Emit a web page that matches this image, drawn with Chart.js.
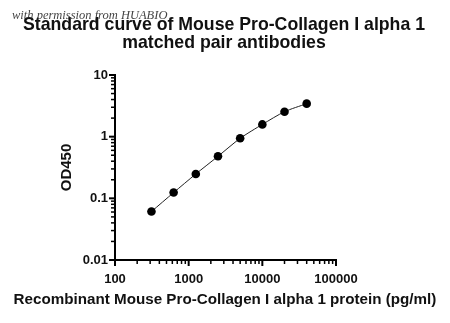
<!DOCTYPE html>
<html>
<head>
<meta charset="utf-8">
<script src="https://cdn.jsdelivr.net/npm/chart.js@4"></script>
<style>
  body { margin: 0; background: #fff; }
  #wrap { position: relative; width: 450px; height: 323px; }
  #note {
    position: absolute; left: 12px; top: 8px;
    font: italic 12.5px "Liberation Serif", "DejaVu Serif", serif;
    color: #222; opacity: 0.85; white-space: nowrap;
  }
</style>
</head>
<body>
<div id="wrap">
  <canvas id="chartCurve" width="450" height="323"></canvas>
  <div id="note">with permission from HUABIO</div>
</div>
<script>
const concentrations = [312.5, 625, 1250, 2500, 5000, 10000, 20000, 40000];
const od450 = [0.061, 0.124, 0.248, 0.48, 0.94, 1.58, 2.54, 3.43];

const xTickValues = [100, 1000, 10000, 100000];
const xTickLabels = ['100', '1000', '10000', '100000'];
const yTickValues = [0.01, 0.1, 1, 10];
const yTickLabels = ['0.01', '0.1', '1', '10'];

const titleLines = ['Standard curve of Mouse Pro-Collagen I alpha 1', 'matched pair antibodies'];
const xTitle = 'Recombinant Mouse Pro-Collagen I alpha 1 protein (pg/ml)';

const FONT = 'Liberation Sans, Arial, sans-serif';

// log axis tick marks: long at each decade, short in between
const logTicks = {
  id: 'logTicks',
  afterDraw(chart) {
    const { ctx, chartArea } = chart;
    ctx.save();
    ctx.strokeStyle = '#000';
    ['x', 'y'].forEach((id) => {
      const scale = chart.scales[id];
      const lo = Math.round(Math.log10(scale.min));
      const hi = Math.round(Math.log10(scale.max));
      for (let d = lo; d <= hi; d++) {
        for (let k = 1; k <= 9; k++) {
          const v = k * Math.pow(10, d);
          if (v > scale.max * 1.0001) break;
          const major = k === 1;
          const len = major ? 6 : 4;
          ctx.lineWidth = major ? 2 : 1.5;
          const p = scale.getPixelForValue(v);
          ctx.beginPath();
          if (id === 'x') {
            ctx.moveTo(p, chartArea.bottom);
            ctx.lineTo(p, chartArea.bottom + len);
          } else {
            ctx.moveTo(chartArea.left, p);
            ctx.lineTo(chartArea.left - len, p);
          }
          ctx.stroke();
        }
      }
    });
    ctx.restore();
  },
};

// titles centred on the whole picture, not on the plot
const pageTitles = {
  id: 'pageTitles',
  afterDraw(chart) {
    const { ctx } = chart;
    ctx.save();
    ctx.fillStyle = '#111';
    ctx.textAlign = 'center';
    ctx.textBaseline = 'middle';
    ctx.font = `bold 17.7px ${FONT}`;
    ctx.fillText(titleLines[0], 224, 25);
    ctx.fillText(titleLines[1], 224, 43);
    ctx.font = `bold 15.2px ${FONT}`;
    ctx.fillText(xTitle, 225, 300);
    ctx.restore();
  },
};

new Chart(document.getElementById('chartCurve').getContext('2d'), {
  type: 'line',
  data: {
    datasets: [
      {
        data: concentrations.map((c, i) => ({ x: c, y: od450[i] })),
        borderColor: '#222',
        borderWidth: 1,
        tension: 0.25,
        pointRadius: 4.3,
        pointBackgroundColor: '#000',
        pointBorderColor: '#000',
        pointBorderWidth: 0,
      },
    ],
  },
  options: {
    responsive: false,
    animation: false,
    layout: { padding: { left: 0, right: 114, top: 75, bottom: 0 } },
    scales: {
      x: {
        type: 'logarithmic',
        min: 100,
        max: 100000,
        afterFit: (scale) => { scale.height = 63; },
        afterBuildTicks: (scale) => { scale.ticks = xTickValues.map((value) => ({ value })); },
        grid: { display: false, drawTicks: false },
        border: { display: true, color: '#000', width: 2 },
        ticks: {
          padding: 12,
          color: '#111',
          font: { family: FONT, size: 13, weight: 'bold' },
          maxRotation: 0,
          callback: (value) => xTickLabels[xTickValues.indexOf(value)] ?? '',
        },
      },
      y: {
        type: 'logarithmic',
        min: 0.01,
        max: 10,
        afterFit: (scale) => { scale.width = 115; },
        afterBuildTicks: (scale) => { scale.ticks = yTickValues.map((value) => ({ value })); },
        grid: { display: false, drawTicks: false },
        border: { display: true, color: '#000', width: 2 },
        ticks: {
          padding: 7,
          color: '#111',
          font: { family: FONT, size: 13, weight: 'bold' },
          callback: (value) => yTickLabels[yTickValues.indexOf(value)] ?? '',
        },
        title: {
          display: true,
          text: 'OD450',
          color: '#111',
          font: { family: FONT, size: 15, weight: 'bold', lineHeight: 1.2 },
          padding: { top: 58, bottom: 0 },
        },
      },
    },
    plugins: {
      legend: { display: false },
      tooltip: { enabled: false },
      title: { display: false },
    },
  },
  plugins: [logTicks, pageTitles],
});
</script>
</body>
</html>
